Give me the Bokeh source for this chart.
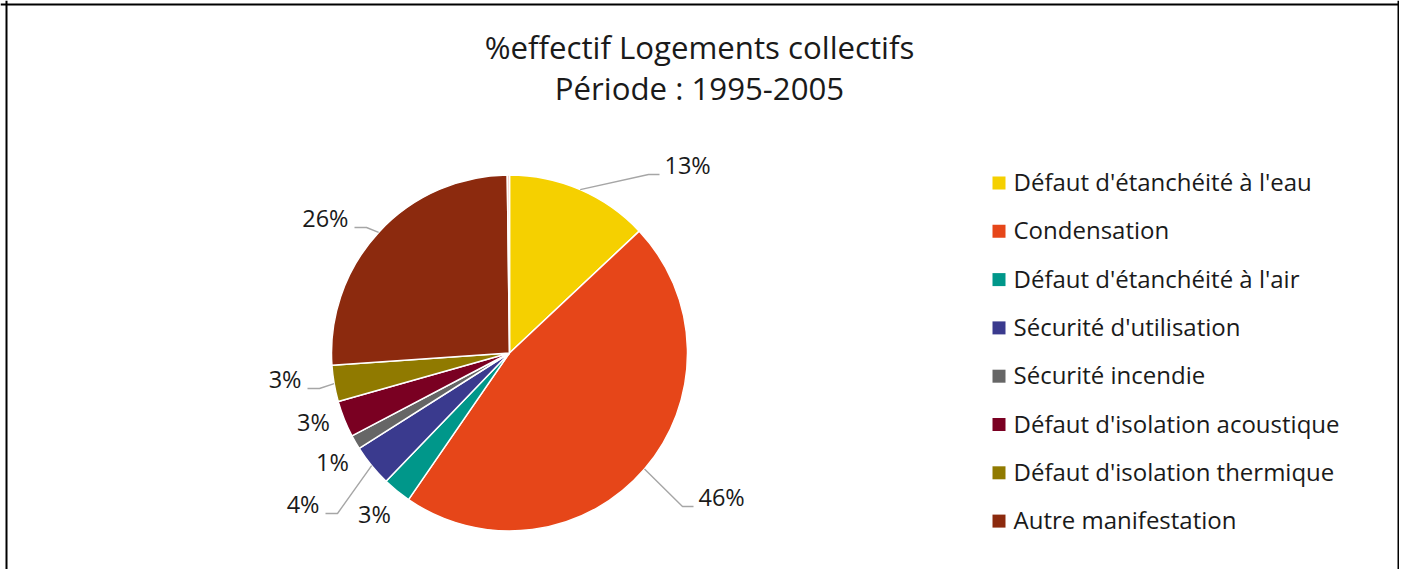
import numpy as np
from bokeh.plotting import figure
from bokeh.models import Range1d, Span, ColumnDataSource
from bokeh.core.properties import value
from bokeh.embed import file_html
from bokeh.resources import INLINE

# ---------------- data ----------------
categories = ["Défaut d'étanchéité à l'eau", "Condensation", "Défaut d'étanchéité à l'air",
              "Sécurité d'utilisation", "Sécurité incendie", "Défaut d'isolation acoustique",
              "Défaut d'isolation thermique", "Autre manifestation"]
shares = [13.0, 46.6, 2.6, 3.8, 1.3, 3.3, 3.3, 25.9]
label_texts = ["13%", "46%", "3%", "4%", "1%", "3%", "3%", "26%"]
residual_share = 0.2   # tiny unlabeled sliver at 12 o'clock
colors = ["#F5D000", "#E64619", "#00978A", "#3A3A8E", "#666666", "#7A0022", "#907A00", "#8C2A0E"]
residual_color = "#EFC3BC"
title_lines = ["%effectif Logements collectifs", "Période : 1995-2005"]

# ---------------- layout (pixels) ----------------
W, H = 1399, 569
FONT = "Open Sans"
cx, cy, R = 509, 352.5, 178
label_x = [664, 698, 374, 319, 332, 313, 301, 348]
label_y = [173, 505, 522, 512, 470, 430, 387, 226]
label_align = ["left", "left", "center", "right", "center", "center", "right", "right"]
has_leader = [True, True, False, True, False, False, True, True]
TXT_DY = 9      # svg baseline correction for ~24px text
TITLE_DY = 11   # svg baseline correction for ~31px text

p = figure(width=W, height=H, output_backend="svg", toolbar_location=None,
           x_range=Range1d(0, W), y_range=Range1d(-H, 0),
           min_border=0, outline_line_color=None)
p.axis.visible = False
p.grid.visible = False
p.background_fill_color = "white"
p.border_fill_color = "white"

# pie wedges
vals = np.array(shares + [residual_share])
fr = np.concatenate([[0], np.cumsum(vals)]) / vals.sum()
start = np.pi / 2 - 2 * np.pi * fr[:-1]
end = np.pi / 2 - 2 * np.pi * fr[1:]
src = ColumnDataSource(dict(start=start, end=end, color=colors + [residual_color]))
p.wedge(x=cx, y=-cy, radius=R, start_angle="start", end_angle="end", direction="clock",
        fill_color="color", line_color="white", line_width=1.5, source=src)

# leader lines
mid = (fr[:-1] + fr[1:])[:len(shares)] / 2 * 2 * np.pi  # clockwise from top
xs, ys = [], []
for i in range(len(shares)):
    if not has_leader[i]:
        continue
    sx = cx + R * np.sin(mid[i])
    sy = cy - R * np.cos(mid[i])
    if label_align[i] == "left":
        ex = label_x[i] - 5
        bx = ex - 11
    else:
        ex = label_x[i] + 6
        bx = ex + 12
    ey = label_y[i] + 1
    xs.append([sx, bx, ex])
    ys.append([-sy, -ey, -ey])
p.multi_line(xs=xs, ys=ys, line_color="#A6A6A6", line_width=1.4)

# data labels
for i, t in enumerate(label_texts):
    p.text(x=[label_x[i]], y=[-(label_y[i] - TXT_DY)], text=[t], text_font=value(FONT),
           text_font_size="23.5px", text_color="#1A1A1A", text_align=label_align[i],
           text_baseline="alphabetic")

# title
p.text(x=[699, 699], y=[-(57 - TITLE_DY), -(98 - TITLE_DY)], text=title_lines,
       text_font=value(FONT), text_font_size="31.2px", text_color="#1A1A1A",
       text_align="center", text_baseline="alphabetic")

# legend
base = [190 + 48.3 * i for i in range(len(categories))]
p.rect(x=[998.5] * len(categories), y=[-(b - 7.5) for b in base], width=13, height=13,
       fill_color=colors, line_color=None)
p.text(x=[1013] * len(categories), y=[-(b - TXT_DY) for b in base], text=categories,
       text_font=value(FONT), text_font_size="24px", text_color="#1A1A1A",
       text_align="left", text_baseline="alphabetic")

# frame border (top, left, right)
p.add_layout(Span(location=-4, dimension="width", line_color="black", line_width=2))
for loc in [6, 1398]:
    p.add_layout(Span(location=loc, dimension="height", line_color="black", line_width=2))

open("out.html", "w").write(file_html(p, INLINE))
